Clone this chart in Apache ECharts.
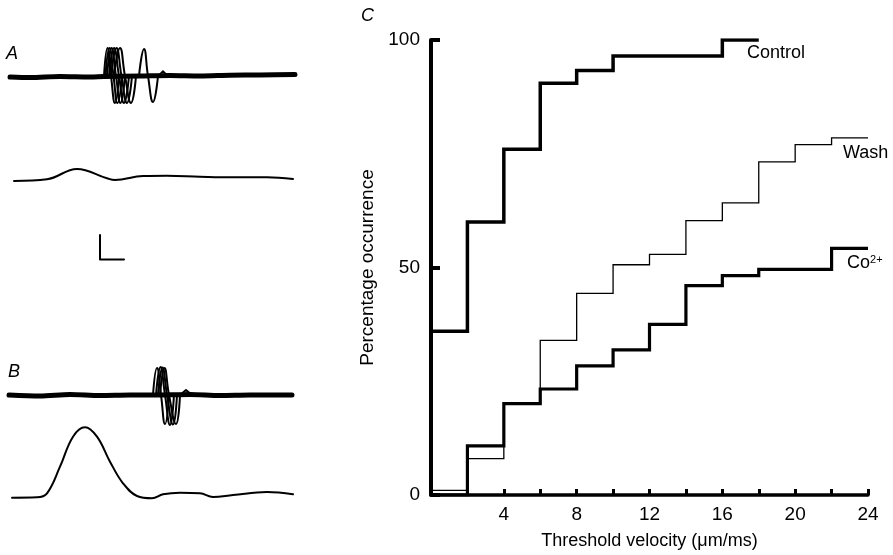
<!DOCTYPE html>
<html>
<head>
<meta charset="utf-8">
<script src="https://cdn.jsdelivr.net/npm/echarts@6/dist/echarts.min.js"></script>
<style>
  html, body { margin: 0; padding: 0; background: #fff; }
  #chart { width: 893px; height: 555px; }
</style>
</head>
<body>
<div id="chart"></div>
<script>
  // C: cumulative % occurrence against threshold velocity (um/ms)
  var velocity = [0, 2, 4, 6, 8, 10, 12, 14, 16, 18, 20, 22, 24]
  var control = [36, 60, 76, 90.5, 93.3, 96.5, 96.5, 96.5, 100, 100]
  var wash = [1, 8, 20, 34, 44.3, 50.6, 52.9, 60.3, 64.2, 73.2, 77, 78.5, 78.5]
  var cobalt = [0, 10.8, 20.1, 23.3, 28.4, 31.9, 37.5, 46, 48.2, 49.6, 49.6, 54.2, 54.2]
  var xTickLabels = ['4', '8', '12', '16', '20', '24']
  var yTickLabels = ['0', '50', '100']

  // A and B: traces, in page pixels (x, y down)
  var fastA = [[10, 77], [30, 77.5], [60, 76.5], [90, 77], [104, 76.5], [140, 76], [170, 75.5], [200, 76], [230, 75.2], [260, 75], [295, 74.5]]
  var spikesA = [
    [[104, 76], [107.5, 48], [111, 76], [115, 103], [119, 76]],
    [[105.5, 76], [109.5, 48], [113.5, 76], [117.5, 103], [122, 76]],
    [[107, 76], [111.5, 48], [116, 76], [120.5, 103], [125, 76]],
    [[109, 76], [114, 48], [119, 76], [124, 103], [129, 76]],
    [[111, 76], [116.5, 48], [121.5, 76], [127, 103], [132, 76]],
    [[114, 76], [120, 48], [125, 76], [131, 103], [136, 76]],
    [[139, 76], [144, 49], [148, 76], [153, 102], [158, 76]]
  ]
  var blipA = [[158, 76], [160, 74], [163, 71], [166, 74], [169, 76]]
  var slowA = [[14, 181], [47, 179.3], [77, 169], [107, 178.3], [115, 180], [143, 176], [167, 175.7], [200, 176.7], [233, 177.3], [267, 177.3], [293, 179]]
  var scaleBar = [[100, 235], [100, 259.5], [124, 259.5]]

  var fastB = [[9, 395], [40, 396], [70, 394.5], [100, 395.5], [130, 395], [153, 395], [190, 394.5], [220, 395.5], [250, 395], [292, 395]]
  var spikesB = [
    [[153, 395], [157, 368], [161, 395], [165, 424], [169, 395]],
    [[156, 395], [160.5, 367], [165, 395], [170, 425], [174, 395]],
    [[158, 395], [162.5, 367.5], [167, 395], [173, 424.5], [177, 395]],
    [[160, 395], [164.5, 368], [169, 395], [176, 424], [180, 395]]
  ]
  var blipB = [[181, 395], [183, 392.5], [186, 390], [189, 392.5], [192, 395]]
  var slowB = [[12, 497.7], [37, 497.3], [47, 493.3], [60, 466.7], [73, 436.7], [85, 427.3], [97, 436.7], [110, 461.7], [123, 483.3], [137, 496], [152, 498.3], [163, 494.3], [180, 492.7], [200, 493.3], [213, 497], [233, 495], [267, 492], [293, 494.3]]

  var ink = '#000'
  var font = '"Liberation Sans", Arial, Helvetica, sans-serif'

  function pairs(xs, ys) {
    return ys.map(function (y, i) { return [xs[i], y] })
  }

  function trace(data, width, smooth) {
    return {
      type: 'line',
      xAxisIndex: 1,
      yAxisIndex: 1,
      data: data,
      smooth: smooth,
      showSymbol: false,
      silent: true,
      lineStyle: { color: ink, width: width, join: 'round', cap: 'round' }
    }
  }

  function steps(data, width) {
    return {
      type: 'line',
      step: 'end',
      data: data,
      showSymbol: false,
      silent: true,
      lineStyle: { color: ink, width: width, join: 'miter' }
    }
  }

  var myChart = echarts.init(document.getElementById('chart'))

  var series = [
    steps(pairs(velocity, control), 3.5),
    steps(pairs(velocity, wash), 1.3),
    steps(pairs(velocity, cobalt), 3.2),
    trace(fastA, 5, 0.3),
    trace(slowA, 2, 0.4),
    trace(scaleBar, 2, false),
    trace(blipA, 1.6, false),
    trace(fastB, 5, 0.3),
    trace(slowB, 2, 0.4),
    trace(blipB, 2, false)
  ]
  spikesA.concat(spikesB).forEach(function (s) {
    series.push(trace(s, 2, 0.5))
  })

  var option = {
    animation: false,
    grid: [
      { left: 431, right: 25, top: 40, bottom: 60 },
      { left: 0, top: 0, width: 320, height: 555 }
    ],
    xAxis: [{
      type: 'value',
      gridIndex: 0,
      min: 0,
      max: 24,
      interval: 2,
      name: 'Threshold velocity (\u03bcm/ms)',
      nameLocation: 'middle',
      nameGap: 37,
      nameTextStyle: { color: ink, fontSize: 18, fontFamily: font },
      splitLine: { show: false },
      axisLine: { lineStyle: { color: ink, width: 3.5 } },
      axisTick: { inside: true, length: 6, lineStyle: { color: ink, width: 3 } },
      axisLabel: {
        color: ink,
        fontSize: 19,
        fontFamily: font,
        margin: 10,
        formatter: function (v) { return xTickLabels.indexOf(String(v)) > -1 ? String(v) : '' }
      }
    }, {
      type: 'value', gridIndex: 1, min: 0, max: 320, show: false
    }],
    yAxis: [{
      type: 'value',
      gridIndex: 0,
      min: 0,
      max: 100,
      interval: 50,
      name: 'Percentage occurrence',
      nameLocation: 'middle',
      nameGap: 54,
      nameTextStyle: { color: ink, fontSize: 19, fontFamily: font },
      splitLine: { show: false },
      axisLine: { lineStyle: { color: ink, width: 4 } },
      axisTick: { inside: true, length: 9, lineStyle: { color: ink, width: 4 } },
      axisLabel: {
        color: ink,
        fontSize: 19,
        fontFamily: font,
        margin: 11,
        formatter: function (v) { return yTickLabels.indexOf(String(v)) > -1 ? String(v) : '' }
      }
    }, {
      type: 'value', gridIndex: 1, min: 0, max: 555, inverse: true, show: false
    }],
    graphic: [
      { type: 'text', left: 6, top: 45, style: { text: 'A', font: 'italic 18px ' + font, fill: ink } },
      { type: 'text', left: 8, top: 363, style: { text: 'B', font: 'italic 18px ' + font, fill: ink } },
      { type: 'text', left: 361, top: 7, style: { text: 'C', font: 'italic 18px ' + font, fill: ink } },
      { type: 'text', left: 747, top: 44, style: { text: 'Control', font: '18px ' + font, fill: ink } },
      { type: 'text', left: 843, top: 144, style: { text: 'Wash', font: '18px ' + font, fill: ink } },
      {
        type: 'text', left: 847, top: 254,
        style: {
          text: '{b|Co}{s|2+}',
          fill: ink,
          rich: {
            b: { fontSize: 18, fontFamily: font, fill: ink, verticalAlign: 'bottom' },
            s: { fontSize: 11, fontFamily: font, fill: ink, verticalAlign: 'top' }
          }
        }
      }
    ],
    series: series
  }

  myChart.setOption(option)
</script>
</body>
</html>
